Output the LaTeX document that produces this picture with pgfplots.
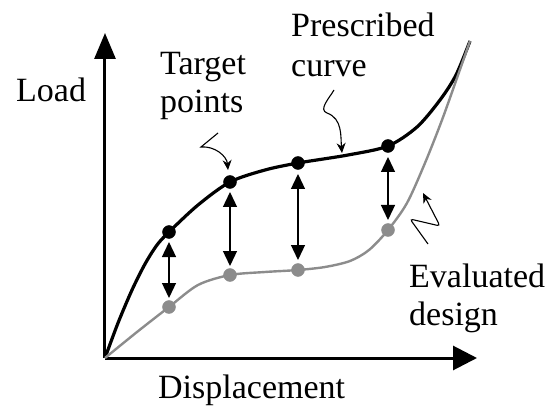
\documentclass[border=0pt]{standalone}
\usepackage{fontspec}
\setmainfont{Liberation Serif}
\usepackage{pgfplots}
\pgfplotsset{compat=1.18}
\usetikzlibrary{arrows.meta}
\definecolor{evalgray}{RGB}{140,140,140}
\begin{document}
\begin{tikzpicture}
\begin{axis}[
  x=1pt, y=1pt,
  xmin=0, xmax=372, ymin=0, ymax=325,
  anchor=origin, at={(0pt,0pt)},
  axis lines=left,
  xtick=\empty, ytick=\empty,
  clip=false,
  axis line style={line width=3pt},
  x axis line style={-{Triangle[length=24pt,width=24pt]}},
  y axis line style={-{Triangle[length=26pt,width=21pt]}},
]
% prescribed curve
\addplot[smooth, black, line width=3.2pt] coordinates {
 (0,0) (13,35) (27,68) (40,94) (52,113) (64,126) (93,153) (125,176) (160,188) (193,195)
 (243,203) (283,212) (312,231) (335,258) (351,283) (365,317)};
% evaluated design
\addplot[smooth, evalgray, line width=2.4pt] coordinates {
 (0,0) (32,26) (64,51) (93,73) (125,83) (160,86) (193,88) (220,91) (245,97) (264,108) (283,128)
 (302,155) (320,195) (337,238) (352,280) (365,317)};
% target points
\addplot[only marks, mark=*, mark size=6.5pt, black] coordinates {
 (64,126) (125,176) (193,195) (283,212)};
\addplot[only marks, mark=*, mark size=6.5pt, evalgray, mark options={fill=evalgray, draw=evalgray}] coordinates {
 (64,51) (125,83) (193,88) (283,128)};
% double arrows
\draw[{Triangle[length=15pt,width=14pt]}-{Triangle[length=15pt,width=14pt]}, line width=1.3pt]
  (axis cs:64,116) -- (axis cs:64,60);
\draw[{Triangle[length=15pt,width=14pt]}-{Triangle[length=15pt,width=14pt]}, line width=1.3pt]
  (axis cs:125,166) -- (axis cs:125,92);
\draw[{Triangle[length=15pt,width=14pt]}-{Triangle[length=15pt,width=14pt]}, line width=1.3pt]
  (axis cs:193,184) -- (axis cs:193,98);
\draw[{Triangle[length=15pt,width=14pt]}-{Triangle[length=15pt,width=14pt]}, line width=1.3pt]
  (axis cs:283,201) -- (axis cs:283,138);
% squiggle pointers
\draw[line width=1.1pt, -{Stealth[length=10pt,width=9pt]}]
  (axis cs:113,225) -- (axis cs:96,211) to[out=5,in=95] (axis cs:123,188);
\draw[line width=1.1pt, -{Stealth[length=10pt,width=9pt]}]
  (axis cs:229,268) to[out=-120,in=160] (axis cs:222,245) to[out=-20,in=95] (axis cs:237,205);
\draw[line width=1.1pt, rounded corners=3pt, -{Stealth[length=10pt,width=9pt]}]
  (axis cs:323,114) -- (axis cs:305,139) -- (axis cs:335,132) -- (axis cs:318,165);
% labels
\node[anchor=base west, inner sep=0pt, font=\fontsize{34}{40}\selectfont] at (axis cs:-89,256) {Load};
\node[anchor=base west, inner sep=0pt, font=\fontsize{34}{40}\selectfont] at (axis cs:55,283) {Target};
\node[anchor=base west, inner sep=0pt, font=\fontsize{34}{40}\selectfont] at (axis cs:55,245) {points};
\node[anchor=base west, inner sep=0pt, font=\fontsize{34}{40}\selectfont] at (axis cs:186,321) {Prescribed};
\node[anchor=base west, inner sep=0pt, font=\fontsize{34}{40}\selectfont] at (axis cs:186,281) {curve};
\node[anchor=base west, inner sep=0pt, font=\fontsize{34}{40}\selectfont] at (axis cs:304,71) {Evaluated};
\node[anchor=base west, inner sep=0pt, font=\fontsize{34}{40}\selectfont] at (axis cs:304,33) {design};
\node[anchor=base west, inner sep=0pt, font=\fontsize{34}{40}\selectfont] at (axis cs:53,-40) {Displacement};
\end{axis}
\pgfresetboundingbox
\path[use as bounding box] (-105pt,-49pt) rectangle (441pt,358pt);
\end{tikzpicture}
\end{document}
